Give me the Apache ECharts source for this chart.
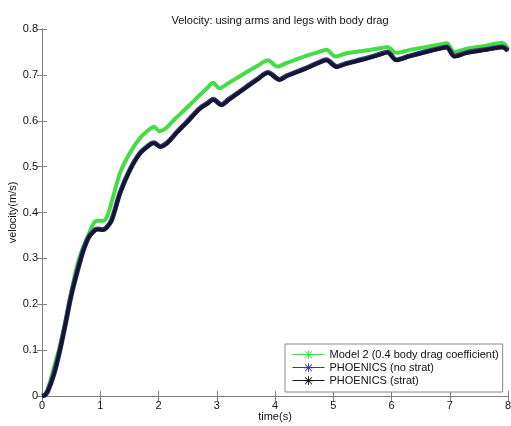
<!DOCTYPE html>
<html>
<head>
<meta charset="utf-8">
<script src="https://cdn.jsdelivr.net/npm/echarts@6/dist/echarts.min.js"></script>
<style>html,body{margin:0;padding:0;background:#fff}#c{width:511px;height:426px}</style>
</head>
<body>
<div id="c"></div>
<script>
var titleText = 'Velocity: using arms and legs with body drag';
var xName = 'time(s)';
var yName = 'velocity(m/s)';
var seriesNames = ['Model 2 (0.4 body drag coefficient)', 'PHOENICS (no strat)', 'PHOENICS (strat)'];

var tGreen = [0,0.05,0.1,0.2,0.3,0.4,0.5,0.6,0.7,0.8,0.88,0.95,1.05,1.12,1.2,1.34,1.5,1.68,1.85,1.92,2.02,2.12,2.3,2.5,2.7,2.85,2.93,3.05,3.2,3.5,3.7,3.88,4.04,4.2,4.5,4.75,4.88,5.04,5.2,5.5,5.8,5.93,6.08,6.3,6.6,6.9,6.95,7.08,7.3,7.6,7.9,8.0];
var vGreen = [0,0.003,0.015,0.06,0.105,0.16,0.225,0.283,0.322,0.352,0.375,0.382,0.382,0.392,0.425,0.486,0.528,0.562,0.582,0.587,0.577,0.583,0.606,0.63,0.655,0.673,0.683,0.671,0.682,0.705,0.72,0.732,0.718,0.726,0.74,0.75,0.755,0.74,0.746,0.752,0.758,0.761,0.748,0.754,0.761,0.768,0.769,0.75,0.757,0.763,0.77,0.757];

var tNoStrat = [0,0.05,0.1,0.2,0.3,0.4,0.5,0.6,0.7,0.8,0.9,0.95,1.05,1.12,1.2,1.34,1.5,1.68,1.85,1.92,2.03,2.15,2.3,2.5,2.7,2.85,2.94,3.08,3.2,3.5,3.7,3.88,4.08,4.2,4.5,4.75,4.88,5.06,5.2,5.5,5.8,5.93,6.08,6.3,6.6,6.9,6.95,7.08,7.3,7.6,7.9,8.0];
var vNoStrat = [0,0.002,0.011,0.046,0.096,0.156,0.219,0.269,0.314,0.346,0.361,0.364,0.363,0.369,0.385,0.443,0.491,0.529,0.548,0.552,0.544,0.552,0.573,0.599,0.626,0.639,0.647,0.635,0.646,0.673,0.691,0.705,0.69,0.698,0.713,0.727,0.733,0.718,0.724,0.734,0.745,0.75,0.733,0.741,0.751,0.76,0.761,0.741,0.749,0.755,0.761,0.753];

var tStrat = [0,0.05,0.1,0.2,0.3,0.4,0.5,0.6,0.7,0.8,0.9,0.95,1.05,1.12,1.2,1.34,1.5,1.68,1.85,1.92,2.03,2.15,2.3,2.5,2.7,2.85,2.94,3.08,3.2,3.5,3.7,3.88,4.08,4.2,4.5,4.75,4.88,5.06,5.2,5.5,5.8,5.93,6.08,6.3,6.6,6.9,6.95,7.08,7.3,7.6,7.9,8.0];
var vStrat = [0,0.002,0.01,0.045,0.095,0.155,0.218,0.268,0.313,0.345,0.36,0.363,0.362,0.368,0.384,0.442,0.49,0.528,0.547,0.551,0.543,0.551,0.572,0.598,0.625,0.638,0.646,0.634,0.645,0.672,0.69,0.704,0.689,0.697,0.712,0.726,0.732,0.717,0.723,0.733,0.744,0.749,0.732,0.74,0.75,0.759,0.76,0.74,0.748,0.754,0.76,0.752];

var xTicks = [0,1,2,3,4,5,6,7,8];
var yTicks = [0,0.1,0.2,0.3,0.4,0.5,0.6,0.7,0.8];

function pairs(t, v){ return t.map(function(x,i){ return [x, v[i]]; }); }

var FONT = 'Liberation Sans, Arial, sans-serif';
var starPath = 'path://M9,0H11V8.3L17.1,2.2L18.5,3.6L12.4,9.7H20V11.7H12.4L18.5,17.8L17.1,19.2L11,13.1V20H9V13.1L2.9,19.2L1.5,17.8L7.6,11.7H0V9.7H7.6L1.5,3.6L2.9,2.2L9,8.3Z';

var chart = echarts.init(document.getElementById('c'), null, {renderer:'canvas'});
var axisLineStyle = {color:'#808080', width:1};
chart.setOption({
  animation:false,
  backgroundColor:'#ffffff',
  title:{text:titleText, left:275, textAlign:'center', top:10,
    textStyle:{fontFamily:FONT, fontSize:11, fontWeight:'normal', color:'#111'}},
  grid:{left:42, right:3, top:29, bottom:30, containLabel:false, outerBoundsMode:'none'},
  legend:{
    orient:'vertical', left:285, top:344,
    padding:[5,4,6,7], itemGap:2, itemWidth:32, itemHeight:11,
    borderColor:'#8a8a8a', borderWidth:1, backgroundColor:'#fff',
    lineStyle:{width:1},
    textStyle:{fontFamily:FONT, fontSize:11, color:'#111'},
    data:seriesNames.slice()
  },
  xAxis:[
    {type:'value', min:0, max:8, interval:1, position:'bottom',
     name:xName, nameLocation:'middle', nameGap:15, nameMoveOverlap:false,
     nameTextStyle:{fontFamily:FONT, fontSize:11, color:'#111'},
     axisLine:{show:true, lineStyle:axisLineStyle},
     axisTick:{show:true, inside:true, length:5, lineStyle:axisLineStyle},
     axisLabel:{fontFamily:FONT, fontSize:11, color:'#111', margin:4},
     splitLine:{show:false}},
    {type:'value', min:0, max:8, interval:1, position:'top',
     axisLine:{show:true, lineStyle:axisLineStyle},
     axisTick:{show:true, inside:true, length:5, lineStyle:axisLineStyle},
     axisLabel:{show:false}, splitLine:{show:false}}
  ],
  yAxis:[
    {type:'value', min:0, max:0.8, interval:0.1, position:'left',
     name:yName, nameLocation:'middle', nameGap:24, nameRotate:90, nameMoveOverlap:false,
     nameTextStyle:{fontFamily:FONT, fontSize:11, color:'#111'},
     axisLine:{show:true, lineStyle:axisLineStyle},
     axisTick:{show:true, inside:true, length:5, lineStyle:axisLineStyle},
     axisLabel:{fontFamily:FONT, fontSize:11, color:'#111', margin:4,
       formatter:function(v){ return String(Math.round(v*10)/10); }},
     splitLine:{show:false}},
    {type:'value', min:0, max:0.8, interval:0.1, position:'right',
     axisLine:{show:true, lineStyle:axisLineStyle},
     axisTick:{show:true, inside:true, length:5, lineStyle:axisLineStyle},
     axisLabel:{show:false}, splitLine:{show:false}}
  ],
  series:[
    {name:seriesNames[0], type:'line', data:pairs(tGreen, vGreen), smooth:0.3,
     symbol:starPath, symbolSize:7, showSymbol:false, color:'#3fdc3f',
     lineStyle:{width:4, color:'#45dd45'}, z:2},
    {name:seriesNames[1], type:'line', data:pairs(tNoStrat, vNoStrat), smooth:0.3,
     symbol:starPath, symbolSize:7, showSymbol:false, color:'#3030b0',
     lineStyle:{width:5, color:'#3a3a8c'}, z:3},
    {name:seriesNames[2], type:'line', data:pairs(tStrat, vStrat), smooth:0.3,
     symbol:starPath, symbolSize:7, showSymbol:false, color:'#111111',
     lineStyle:{width:3.5, color:'#15152e'}, z:4}
  ]
});
</script>
</body>
</html>
